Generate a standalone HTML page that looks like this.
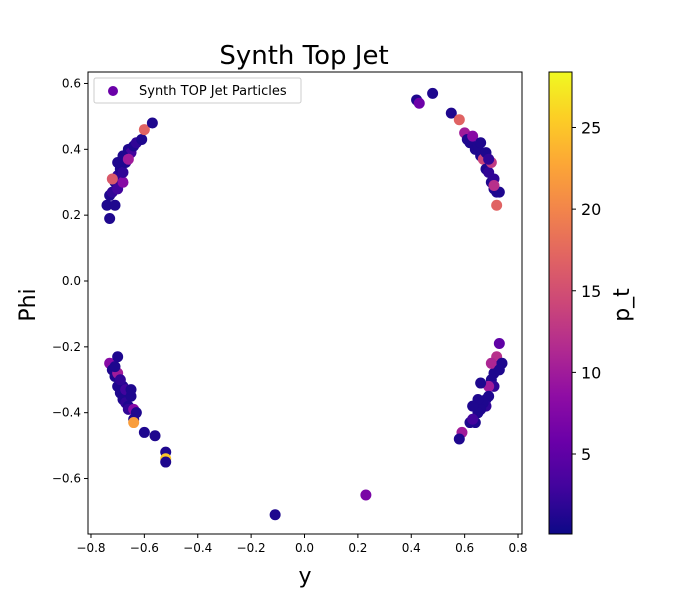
<!DOCTYPE html>
<html><head><meta charset="utf-8"><style>
body{margin:0;background:#fff}
svg{font-family:"DejaVu Sans","Liberation Sans",sans-serif}
</style></head><body>
<svg id="chart" width="700" height="600" xmlns="http://www.w3.org/2000/svg">
<defs><linearGradient id="plasma" x1="0" y1="1" x2="0" y2="0">
<stop offset="0" stop-color="#0d0887"/><stop offset="0.1" stop-color="#41049d"/><stop offset="0.2" stop-color="#6a00a8"/><stop offset="0.3" stop-color="#8f0da4"/><stop offset="0.4" stop-color="#b12a90"/><stop offset="0.5" stop-color="#cc4778"/><stop offset="0.6" stop-color="#e16462"/><stop offset="0.7" stop-color="#f2844b"/><stop offset="0.8" stop-color="#fca636"/><stop offset="0.9" stop-color="#fcce25"/><stop offset="1" stop-color="#f0f921"/></linearGradient></defs>
<text x="304" y="64" font-size="26" text-anchor="middle">Synth Top Jet</text>
<g id="marks"></g>
<rect x="88" y="72" width="434" height="462" fill="none" stroke="#000" stroke-width="1"/>
<g id="xticks"></g><g id="yticks"></g>
<text x="305" y="583" font-size="22" text-anchor="middle">y</text>
<text x="0" y="0" font-size="22" text-anchor="middle" transform="translate(35,305) rotate(-90)">Phi</text>
<g>
<rect x="94" y="78" width="207" height="25" fill="#fff" stroke="#ccc" rx="2"/>
<circle cx="113" cy="91" r="5" fill="#6a00a8"/>
<text x="139" y="95" font-size="13">Synth TOP Jet Particles</text>
</g>
<rect x="549" y="72" width="23" height="462" fill="url(#plasma)" stroke="#000" stroke-width="1"/>
<g id="cticks"></g>
<text x="0" y="0" font-size="22" text-anchor="middle" transform="translate(629,305) rotate(-90)">p_t</text>
</svg>
<script>
const xs=[-0.74,-0.73,-0.73,-0.72,-0.71,-0.71,-0.70,-0.70,-0.69,-0.69,-0.68,-0.68,-0.67,-0.67,-0.66,-0.65,-0.64,-0.63,-0.61,-0.60,-0.57,-0.72,-0.70,-0.68,-0.66,
0.42,0.43,0.48,0.55,0.58,0.60,0.61,0.62,0.63,0.64,0.65,0.66,0.67,0.68,0.68,0.69,0.70,0.70,0.71,0.71,0.72,0.73,0.71,0.72,0.66,0.69,
-0.73,-0.72,-0.71,-0.70,-0.70,-0.70,-0.69,-0.68,-0.68,-0.67,-0.67,-0.66,-0.65,-0.65,-0.66,-0.64,-0.63,-0.64,-0.64,-0.60,-0.56,-0.52,-0.52,-0.52,-0.71,-0.69,
0.73,0.72,0.72,0.71,0.70,0.70,0.71,0.69,0.69,0.68,0.68,0.67,0.66,0.66,0.65,0.64,0.65,0.63,0.62,0.63,0.59,0.58,0.74,0.73,
0.23,-0.11];
const phis=[0.23,0.19,0.26,0.27,0.23,0.30,0.28,0.32,0.34,0.36,0.30,0.33,0.36,0.38,0.40,0.39,0.41,0.42,0.43,0.46,0.48,0.31,0.36,0.38,0.37,
0.55,0.54,0.57,0.51,0.49,0.45,0.43,0.42,0.44,0.40,0.41,0.38,0.37,0.39,0.34,0.33,0.36,0.30,0.31,0.28,0.27,0.27,0.29,0.23,0.42,0.37,
-0.25,-0.27,-0.29,-0.23,-0.28,-0.32,-0.34,-0.32,-0.36,-0.37,-0.33,-0.38,-0.35,-0.33,-0.39,-0.39,-0.40,-0.42,-0.43,-0.46,-0.47,-0.52,-0.54,-0.55,-0.26,-0.30,
-0.19,-0.23,-0.26,-0.28,-0.25,-0.30,-0.32,-0.32,-0.35,-0.36,-0.38,-0.37,-0.31,-0.39,-0.40,-0.43,-0.36,-0.38,-0.43,-0.42,-0.46,-0.48,-0.25,-0.27,
-0.65,-0.71];
const pts=[1,1,1,2,1,1,3,2,1,1,8,2,1,2,1,3,1,2,1,17,1,16,1,1,10,
1,6,1,1,17,10,1,1,8,1,1,1,14,1,1,2,13,1,2,1,1,1,12,17,1,2,
8,1,1,1,10,1,1,1,1,2,3,1,1,1,2,8,1,1,22,1,1,1,25,1,1,2,
5,12,1,1,11,1,2,10,1,1,2,1,1,1,1,1,1,1,1,3,10,1,1,1,
7,1];
const xTicks=[-0.8,-0.6,-0.4,-0.2,0.0,0.2,0.4,0.6,0.8];
const yTicks=[0.6,0.4,0.2,0.0,-0.2,-0.4,-0.6];
const cTicks=[5,10,15,20,25];
const X=v=>304.5+v*266.9, Y=v=>281-v*329.2;
const cmin=0.1,cmax=28.4;
const C=v=>534-(v-cmin)/(cmax-cmin)*462;
const stops=["#0d0887","#41049d","#6a00a8","#8f0da4","#b12a90","#cc4778","#e16462","#f2844b","#fca636","#fcce25","#f0f921"];
function hex(h){return [1,3,5].map(i=>parseInt(h.substr(i,2),16));}
function plasma(v){let t=Math.max(0,Math.min(1,(v-cmin)/(cmax-cmin)))*10;let i=Math.min(9,Math.floor(t)),f=t-i;
const a=hex(stops[i]),b=hex(stops[i+1]);return "rgb("+a.map((c,k)=>Math.round(c+(b[k]-c)*f)).join(",")+")";}
const NS="http://www.w3.org/2000/svg";
function mk(t,a,p){const e=document.createElementNS(NS,t);for(const k in a)e.setAttribute(k,a[k]);p.appendChild(e);return e;}
const g=document.getElementById("marks");
xs.forEach((x,i)=>{const c=mk("circle",{cx:X(x),cy:Y(phis[i]),r:5.5,fill:plasma(pts[i])},g);

});
const xg=document.getElementById("xticks");
xTicks.forEach(v=>{mk("line",{x1:X(v),x2:X(v),y1:534,y2:538,stroke:"#000"},xg);
const t=mk("text",{x:X(v),y:552,"font-size":12,"text-anchor":"middle"},xg);t.textContent=v.toFixed(1).replace("-","−");

});
const yg=document.getElementById("yticks");
yTicks.forEach(v=>{mk("line",{x1:84,x2:88,y1:Y(v),y2:Y(v),stroke:"#000"},yg);
const t=mk("text",{x:81,y:Y(v)+4,"font-size":12,"text-anchor":"end"},yg);t.textContent=v.toFixed(1).replace("-","−");

});
const cg=document.getElementById("cticks");
cTicks.forEach(v=>{mk("line",{x1:572,x2:576,y1:C(v),y2:C(v),stroke:"#000"},cg);
const t=mk("text",{x:581,y:C(v)+6,"font-size":16},cg);t.textContent=v;

});
</script>
</body></html>
